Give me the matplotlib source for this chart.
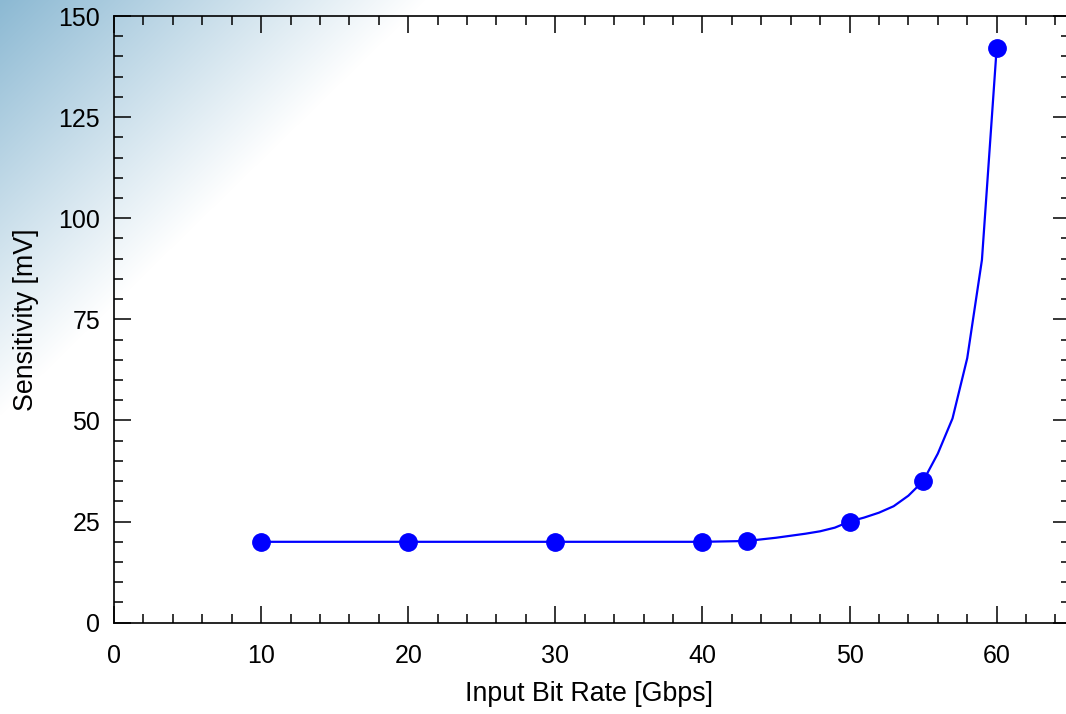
import numpy as np
import matplotlib
matplotlib.use("Agg")
import matplotlib.pyplot as plt
from matplotlib.ticker import MultipleLocator

plt.rcParams['font.family'] = ['Liberation Sans', 'DejaVu Sans']

# measured points
bit_rate = [10, 20, 30, 40, 43, 50, 55, 60]
sensitivity = [20, 20, 20, 20, 20.2, 25, 35, 142]

# fitted curve vertices
curve_x = [10, 20, 30, 40, 43, 44, 45, 46, 47, 48, 49, 50, 51, 52, 53, 54, 55, 56, 57, 58, 59, 60]
curve_y = [20, 20, 20, 20, 20.2, 20.6, 21.0, 21.5, 22.0, 22.6, 23.5, 25.0, 26.0, 27.2, 28.8, 31.4,
           35.0, 41.8, 50.5, 65.4, 89.7, 142]

x_ticks = [0, 10, 20, 30, 40, 50, 60]
y_ticks = [0, 25, 50, 75, 100, 125, 150]

W, H = 1066, 714
fig = plt.figure(figsize=(W / 100, H / 100), dpi=100)

# background gradient (top-left light blue fading to white)
bg = fig.add_axes([0, 0, 1, 1], zorder=-10)
yy, xx = np.mgrid[0:H, 0:W]
t = np.clip(xx / 425.0 + yy / 415.0, 0, 1)
c0 = np.array([140, 185, 211]) / 255.0
c1 = np.array([1.0, 1.0, 1.0])
img = c0[None, None, :] * (1 - t[..., None]) + c1[None, None, :] * t[..., None]
bg.imshow(img, aspect='auto', extent=[0, W, H, 0])
bg.set_xlim(0, W)
bg.set_ylim(H, 0)
bg.axis('off')

left_px, right_px = 114, 1070.2
top_px, bottom_px = 16, 622.7
ax = fig.add_axes([left_px / W, (H - bottom_px) / H,
                   (right_px - left_px) / W, (bottom_px - top_px) / H])
ax.set_facecolor('none')

ax.plot(curve_x, curve_y, color='#0000ff', lw=1.6, zorder=2)
ax.plot(bit_rate, sensitivity, 'o', color='#0000ff', ms=12.5, mec='#0000ff', zorder=3)

ax.set_xlim(0, 65)
ax.set_ylim(0, 150)
ax.set_xticks(x_ticks)
ax.set_yticks(y_ticks)
ax.xaxis.set_minor_locator(MultipleLocator(2))
ax.yaxis.set_minor_locator(MultipleLocator(5))

ax.tick_params(which='both', direction='in', top=True, right=True, colors='black')
ax.tick_params(which='major', length=12.5, width=1.1)
ax.tick_params(which='minor', length=6.5, width=1.1)
ax.tick_params(axis='x', which='major', labelsize=18, pad=15)
ax.tick_params(axis='y', which='major', labelsize=18, pad=10)
for s in ax.spines.values():
    s.set_linewidth(1.2)

ax.set_xlabel('Input Bit Rate [Gbps]', fontsize=19.3)
ax.set_ylabel('Sensitivity [mV]', fontsize=19.3)
ax.xaxis.set_label_coords(0.497, -0.118)
ax.xaxis.label.set_va('center')
ax.yaxis.set_label_coords(-0.092, 0.5)
ax.yaxis.label.set_va('center')

fig.savefig('out.png', dpi=100)
